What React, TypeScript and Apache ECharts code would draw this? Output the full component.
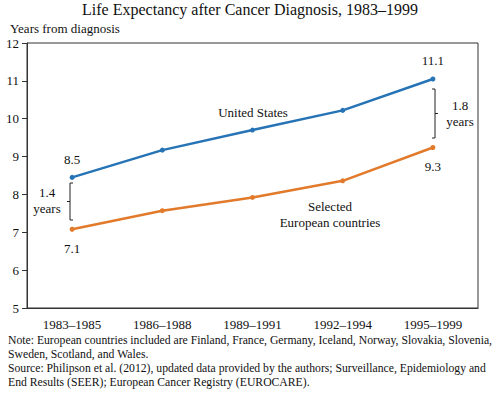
import React, { useEffect, useRef } from "react";
import * as echarts from "echarts";

const categories = ["1983–1985", "1986–1988", "1989–1991", "1992–1994", "1995–1999"];
const usValues = [8.45, 9.17, 9.7, 10.22, 11.05];
const euValues = [7.08, 7.57, 7.92, 8.36, 9.24];
const usLabels = ["8.5", "", "", "", "11.1"];
const euLabels = ["7.1", "", "", "", "9.3"];
const noteLines = [
  "Note: European countries included are Finland, France, Germany, Iceland, Norway, Slovakia, Slovenia,",
  "Sweden, Scotland, and Wales.",
  "Source: Philipson et al. (2012), updated data provided by the authors; Surveillance, Epidemiology and",
  "End Results (SEER); European Cancer Registry (EUROCARE).",
];

const FONT = "Times New Roman";
const BLUE = "#2673b6";
const ORANGE = "#e27a2b";

export default function App() {
  const ref = useRef<HTMLDivElement>(null);
  useEffect(() => {
    if (!ref.current) return;
    const chart = echarts.init(ref.current, null, { renderer: "svg" });
    const txt = (x: number, y: number, text: string, size = 13, align = "left") => ({
      type: "text",
      x,
      y,
      style: { text, fontFamily: FONT, fontSize: size, fill: "#111", align, verticalAlign: "middle" },
    });
    const line = (x1: number, y1: number, x2: number, y2: number) => ({
      type: "line",
      shape: { x1, y1, x2, y2 },
      style: { stroke: "#222", lineWidth: 1 },
    });
    chart.setOption({
      animation: false,
      backgroundColor: "#fff",
      textStyle: { fontFamily: FONT },
      grid: { left: 27, right: 22, top: 43, bottom: 87, show: true, borderColor: "#333", borderWidth: 1 },
      xAxis: {
        type: "category",
        data: categories,
        axisLine: { lineStyle: { color: "#333" } },
        axisTick: { inside: true, length: 4, lineStyle: { color: "#333" } },
        axisLabel: { fontFamily: FONT, fontSize: 13, color: "#111", margin: 10 },
      },
      yAxis: {
        type: "value",
        min: 5,
        max: 12,
        interval: 1,
        splitLine: { show: false },
        axisLine: { show: true, lineStyle: { color: "#333" } },
        axisTick: { show: true, length: 5, lineStyle: { color: "#333" } },
        axisLabel: { fontFamily: FONT, fontSize: 13, color: "#111", margin: 8 },
      },
      series: [
        {
          name: "United States",
          type: "line",
          data: usValues,
          symbol: "circle",
          symbolSize: 5,
          lineStyle: { color: BLUE, width: 2.5 },
          itemStyle: { color: BLUE },
          label: {
            show: true,
            position: "top",
            distance: 9,
            fontFamily: FONT,
            fontSize: 13,
            color: "#111",
            formatter: (p: any) => usLabels[p.dataIndex],
          },
        },
        {
          name: "Selected European countries",
          type: "line",
          data: euValues,
          symbol: "circle",
          symbolSize: 5,
          lineStyle: { color: ORANGE, width: 2.5 },
          itemStyle: { color: ORANGE },
          label: {
            show: true,
            position: "bottom",
            distance: 10,
            fontFamily: FONT,
            fontSize: 13,
            color: "#111",
            formatter: (p: any) => euLabels[p.dataIndex],
          },
        },
      ],
      graphic: [
        txt(250, 9, "Life Expectancy after Cancer Diagnosis, 1983–1999", 16, "center"),
        txt(10, 28, "Years from diagnosis", 13),
        txt(253, 112, "United States", 13, "center"),
        txt(330, 206, "Selected", 13, "center"),
        txt(330, 222, "European countries", 13, "center"),
        line(70, 183, 70, 220),
        line(70, 183, 73, 183),
        line(70, 220, 73, 220),
        line(67, 201.5, 70, 201.5),
        txt(47, 192, "1.4", 13, "center"),
        txt(47, 208, "years", 13, "center"),
        line(435, 89, 435, 138),
        line(432, 89, 435, 89),
        line(432, 138, 435, 138),
        line(435, 113.5, 438, 113.5),
        txt(460, 105, "1.8", 13, "center"),
        txt(460, 121, "years", 13, "center"),
        ...noteLines.map((l, i) => txt(8, 340 + i * 14, l, 11.7)),
      ],
    });
    return () => chart.dispose();
  }, []);
  return (
    <>
      <style>{`#root svg text { font-family: "Times New Roman", "Liberation Serif", serif !important; }`}</style>
      <div ref={ref} style={{ position: "fixed", left: 0, top: 0, width: 500, height: 395 }} />
    </>
  );
}
